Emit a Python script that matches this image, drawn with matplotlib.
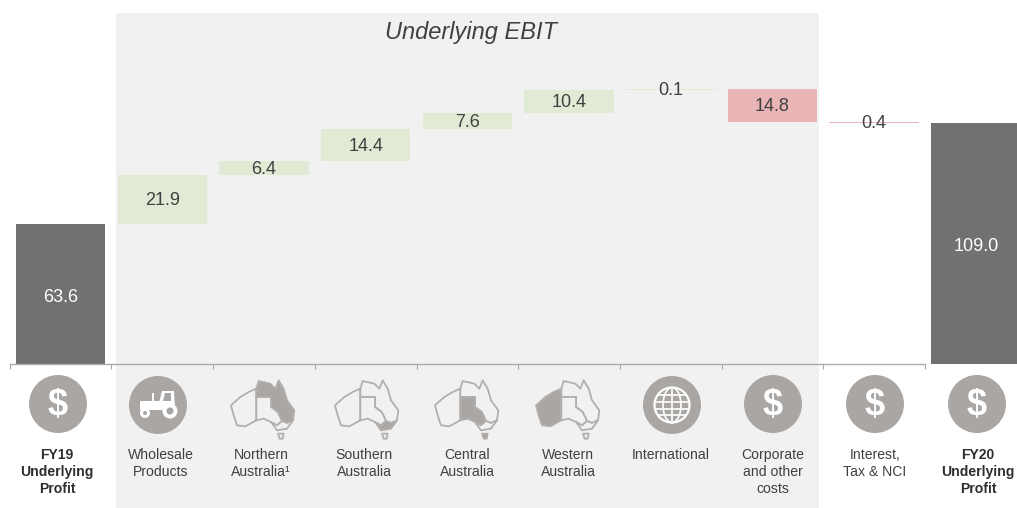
import numpy as np
import matplotlib
matplotlib.use('Agg')
import matplotlib.pyplot as plt
from matplotlib.patches import Circle, Ellipse, Polygon, Rectangle

plt.rcParams['font.family'] = ['Liberation Sans', 'DejaVu Sans']

# Data
categories = ['FY19\nUnderlying\nProfit', 'Wholesale\nProducts', 'Northern\nAustralia\u00b9',
              'Southern\nAustralia', 'Central\nAustralia', 'Western\nAustralia', 'International',
              'Corporate\nand other\ncosts', 'Interest,\nTax & NCI', 'FY20\nUnderlying\nProfit']
changes = [21.9, 6.4, 14.4, 7.6, 10.4, 0.1, -14.8, -0.4]
fy19 = 63.6
fy20 = 109.0
value_labels = ['63.6', '21.9', '6.4', '14.4', '7.6', '10.4', '0.1', '14.8', '0.4', '109.0']
title = 'Underlying EBIT'

W, H = 1017, 508
TEXT = '#404040'
ICON = '#aaa6a4'
PANEL = '#f1f1f1'
GREEN = '#e0ead5'
RED = '#e9b5b6'
DARK = '#717171'

fig = plt.figure(figsize=(W / 100, H / 100), dpi=100)

# Pixel space overlay for the panel, icons and category labels
bg = fig.add_axes([0, 0, 1, 1], zorder=1)
bg.set_xlim(0, W)
bg.set_ylim(H, 0)
bg.axis('off')
bg.add_patch(Rectangle((116, 13), 703, H - 13, color=PANEL, lw=0))

# Chart axes: baseline sits at pixel y=364, 2.208 px per unit, 101.7 px per category
ax = fig.add_axes([0, (H - 364) / H, 1, 364 / H], zorder=2)
ax.patch.set_alpha(0)
ax.set_xlim(-60.6 / 101.7, (W - 60.6) / 101.7)
ax.set_ylim(0, 364 / 2.208)

x = np.arange(len(categories))
running = fy19
bottoms = [0]
heights = [fy19]
colors = [DARK]
for c in changes:
    bottoms.append(min(running, running + c))
    heights.append(abs(c))
    colors.append(GREEN if c > 0 else RED)
    running += c
bottoms.append(0)
heights.append(fy20)
colors.append(DARK)
bottoms = np.array(bottoms)
heights = np.array(heights)

ax.bar(x, heights, bottom=bottoms, width=0.88, color=colors, linewidth=0)

for i, lab in enumerate(value_labels):
    if i in (0, 9):
        ax.text(i, heights[i] * (0.47 if i == 0 else 0.49), lab, color='white', fontsize=13,
                ha='center', va='center')
    else:
        ax.text(i, bottoms[i] + heights[i] / 2 - 0.5, lab, color=TEXT, fontsize=13,
                ha='center', va='center')

for s in ['top', 'left', 'right']:
    ax.spines[s].set_visible(False)
ax.spines['bottom'].set_color('#ababab')
ax.spines['bottom'].set_linewidth(1.0)
ax.spines['bottom'].set_bounds(-0.5, 8.5)
ax.set_xticks(x - 0.5)
ax.set_xticklabels([])
ax.set_yticks([])
ax.tick_params(axis='x', length=3.5, color='#a6a6a6', width=0.8)

bg.text(471, 32, title, fontsize=17, style='italic', color=TEXT, ha='center', va='center')

label_xs = [57, 160.5, 261, 364, 467, 568, 671, 773, 875, 978]
for i, cat in enumerate(categories):
    bold = i in (0, 9)
    for j, line in enumerate(cat.split('\n')):
        bg.text(label_xs[i], 459 + 16.8 * j, line, fontsize=10.1, color='#2e2e2e' if bold else TEXT,
                fontweight='bold' if bold else 'normal', ha='center', va='baseline')


def dollar(cx, cy):
    bg.add_patch(Circle((cx, cy), 29, color=ICON, lw=0))
    bg.text(cx, cy + 1, '$', color='white', fontsize=26, fontweight='bold', ha='center', va='center')


def tractor(cx, cy):
    bg.add_patch(Circle((cx, cy), 29, color=ICON, lw=0))
    bg.add_patch(Rectangle((cx - 18, cy - 4), 26, 9, color='white', lw=0))
    bg.add_patch(Polygon([(cx + 1, cy - 2), (cx + 4, cy - 14), (cx + 16, cy - 14), (cx + 17, cy + 3), (cx + 1, cy + 5)],
                         closed=True, color='white', lw=0))
    bg.add_patch(Polygon([(cx + 5, cy - 4), (cx + 7, cy - 12), (cx + 13, cy - 12), (cx + 13, cy - 4)],
                         closed=True, color=ICON, lw=0))
    bg.add_patch(Rectangle((cx - 6, cy - 12), 2, 9, color='white', lw=0))
    bg.add_patch(Circle((cx - 13, cy + 8), 5, color='white', lw=0))
    bg.add_patch(Circle((cx - 13, cy + 8), 2, color=ICON, lw=0))
    bg.add_patch(Circle((cx + 12, cy + 6), 7.5, color='white', lw=0))
    bg.add_patch(Circle((cx + 12, cy + 6), 3.5, color=ICON, lw=0))


def globe(cx, cy):
    bg.add_patch(Circle((cx, cy), 29, color=ICON, lw=0))
    bg.add_patch(Circle((cx, cy), 17.5, fill=False, ec='white', lw=1.6))
    bg.add_patch(Ellipse((cx, cy), 18, 35, fill=False, ec='white', lw=1.2))
    bg.plot([cx, cx], [cy - 17.5, cy + 17.5], color='white', lw=1.2)
    for dy in (-10, -3.5, 3.5, 10):
        half = np.sqrt(17.5 ** 2 - dy ** 2)
        bg.plot([cx - half, cx + half], [cy + dy, cy + dy], color='white', lw=1.2)


# Map regions, traced from the icon at 3x zoom around (785, 170)
wa = [(692, 165), (720, 140), (745, 125), (768, 115), (768, 210), (735, 228), (710, 225), (700, 195)]
north = [(768, 115), (775, 92), (810, 100), (825, 115), (835, 90), (850, 115), (860, 150), (882, 180),
         (878, 210), (860, 218), (845, 212), (832, 185), (812, 170), (812, 140), (768, 140)]
central = [(768, 140), (812, 140), (812, 170), (832, 185), (845, 212), (830, 225), (812, 215),
           (790, 205), (768, 210)]
south = [(845, 212), (860, 218), (878, 210), (860, 235), (830, 240), (812, 215), (830, 225)]
tas = [(833, 250), (850, 250), (847, 265), (838, 265)]


def aus(cx, cy, shaded):
    regions = {'wa': wa, 'north': north, 'central': central, 'south': south, 'tas': tas}
    for name, pts in regions.items():
        local = [(cx + (px - 785) / 3, cy + (py - 170) / 3) for px, py in pts]
        fill = ICON if name in shaded else PANEL
        bg.add_patch(Polygon(local, closed=True, fc=fill, ec='#b2afad', lw=1.3, joinstyle='round'))


dollar(58, 404)
tractor(158, 405)
aus(262, 407, ['north'])
aus(366, 407, ['south'])
aus(466, 407, ['central', 'tas'])
aus(567, 407, ['wa'])
globe(672, 405)
dollar(773, 404)
dollar(875, 404)
dollar(977, 404)

plt.savefig('out.png', dpi=100)
